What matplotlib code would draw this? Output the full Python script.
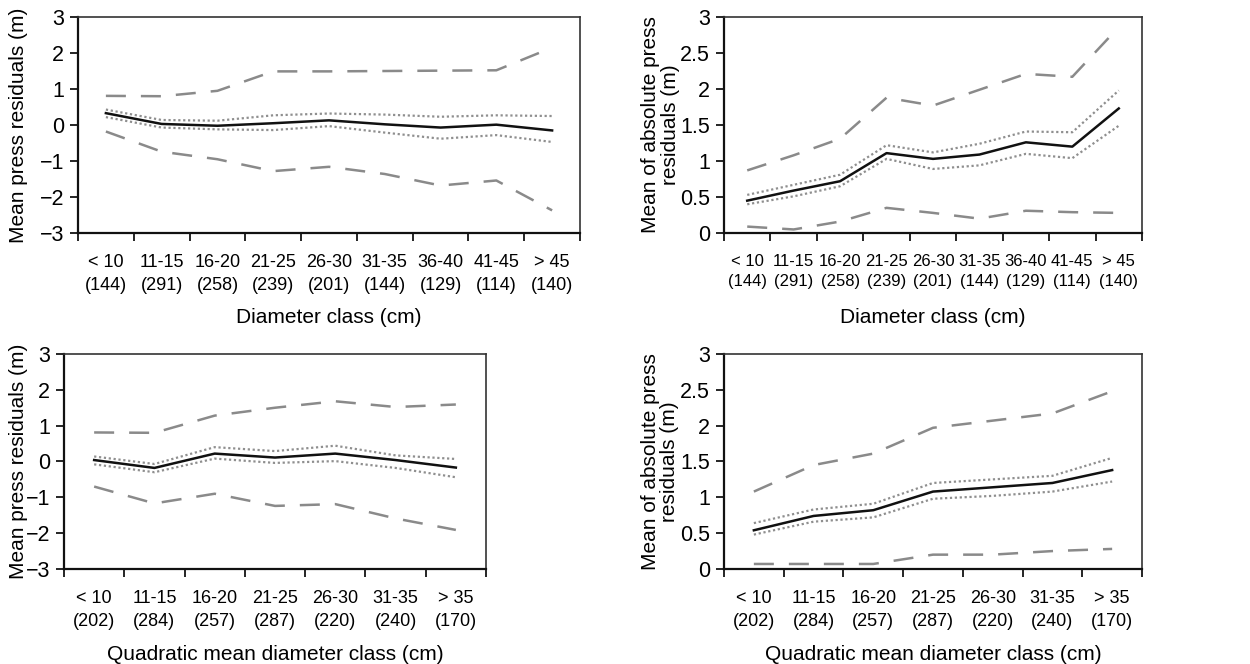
import numpy as np
import matplotlib
matplotlib.use("Agg")
import matplotlib.pyplot as plt
from matplotlib.ticker import FixedLocator, FuncFormatter

plt.rcParams['font.family'] = ['Liberation Sans', 'DejaVu Sans']

# diameter classes (top row)
d_classes = ['< 10', '11-15', '16-20', '21-25', '26-30', '31-35', '36-40', '41-45', '> 45']
d_counts = [144, 291, 258, 239, 201, 144, 129, 114, 140]

# quadratic mean diameter classes (bottom row)
q_classes = ['< 10', '11-15', '16-20', '21-25', '26-30', '31-35', '> 35']
q_counts = [202, 284, 257, 287, 220, 240, 170]

# top left: mean press residuals by diameter class
d_mean = [0.33, 0.03, -0.02, 0.05, 0.13, 0.02, -0.07, 0.01, -0.15]
d_mean_hi = [0.43, 0.14, 0.12, 0.27, 0.32, 0.29, 0.23, 0.27, 0.25]
d_mean_lo = [0.22, -0.07, -0.12, -0.14, -0.03, -0.21, -0.38, -0.28, -0.47]
d_range_hi = [0.81, 0.80, 0.95, 1.49, 1.49, 1.50, 1.51, 1.52, 2.15]
d_range_lo = [-0.18, -0.74, -0.95, -1.28, -1.16, -1.36, -1.68, -1.54, -2.37]

# top right: mean absolute press residuals by diameter class
d_abs = [0.45, 0.59, 0.72, 1.11, 1.03, 1.09, 1.26, 1.20, 1.73]
d_abs_hi = [0.53, 0.67, 0.81, 1.22, 1.12, 1.24, 1.41, 1.40, 1.98]
d_abs_lo = [0.40, 0.51, 0.65, 1.03, 0.89, 0.94, 1.10, 1.04, 1.49]
d_abs_rhi = [0.87, 1.08, 1.31, 1.88, 1.77, 1.99, 2.21, 2.17, 2.86]
d_abs_rlo = [0.09, 0.05, 0.16, 0.35, 0.28, 0.20, 0.31, 0.29, 0.28]

# bottom left: mean press residuals by quadratic mean diameter class
q_mean = [0.04, -0.18, 0.22, 0.11, 0.22, 0.04, -0.17]
q_mean_hi = [0.14, -0.07, 0.40, 0.29, 0.44, 0.17, 0.07]
q_mean_lo = [-0.08, -0.30, 0.08, -0.04, 0.01, -0.18, -0.44]
q_range_hi = [0.81, 0.80, 1.28, 1.50, 1.68, 1.52, 1.59]
q_range_lo = [-0.70, -1.17, -0.90, -1.24, -1.19, -1.59, -1.91]

# bottom right: mean absolute press residuals by quadratic mean diameter class
q_abs = [0.54, 0.74, 0.82, 1.08, 1.14, 1.20, 1.38]
q_abs_hi = [0.64, 0.83, 0.91, 1.20, 1.25, 1.30, 1.55]
q_abs_lo = [0.48, 0.66, 0.72, 0.98, 1.02, 1.08, 1.22]
q_abs_rhi = [1.08, 1.45, 1.61, 1.97, 2.07, 2.17, 2.48]
q_abs_rlo = [0.07, 0.07, 0.07, 0.20, 0.20, 0.25, 0.28]

fig = plt.figure(figsize=(12.5, 6.64), dpi=100)

positions = {
    'tl': [0.0624, 0.649, 0.4016, 0.3254],
    'tr': [0.5792, 0.649, 0.3344, 0.3254],
    'bl': [0.0512, 0.1431, 0.3376, 0.3238],
    'br': [0.5792, 0.1431, 0.3344, 0.3238],
}
# y-label right edge / x-label top, in axes fraction
ylabel_x = {'tl': -0.100, 'tr': -0.106, 'bl': -0.086, 'br': -0.107}
xlabel_y = {'tl': -0.345, 'tr': -0.345, 'bl': -0.352, 'br': -0.352}
xtick_size = {'tl': 13, 'tr': 12, 'bl': 13, 'br': 13}

grey = '#8a8a8a'
dot_grey = '#8f8f8f'


def fmt_num(v, pos):
    if abs(v - round(v)) < 1e-9:
        s = '%d' % round(v)
    else:
        s = ('%.1f' % v)
    return s.replace('-', '\u2212')


def draw(key, classes, counts, mean, hi, lo, rhi, rlo, ylim, yticks, ylabel, xlabel):
    ax = fig.add_axes(positions[key])
    n = len(classes)
    x = np.arange(n) + 0.5
    ax.plot(x, rhi, color=grey, lw=1.8, dashes=(8, 6))
    ax.plot(x, rlo, color=grey, lw=1.8, dashes=(8, 6))
    ax.plot(x, hi, color=dot_grey, lw=1.6, dashes=(1, 1.2))
    ax.plot(x, lo, color=dot_grey, lw=1.6, dashes=(1, 1.2))
    ax.plot(x, mean, color='#111111', lw=1.8)

    ax.set_xlim(0, n)
    ax.set_ylim(*ylim)
    ax.xaxis.set_major_locator(FixedLocator(np.arange(n + 1)))
    ax.xaxis.set_major_formatter(FuncFormatter(lambda v, p: ''))
    ax.xaxis.set_minor_locator(FixedLocator(x))
    labels = ['%s\n(%d)' % (c, k) for c, k in zip(classes, counts)]
    ax.set_xticklabels(labels, minor=True, fontsize=xtick_size[key], linespacing=1.45)
    ax.tick_params(axis='x', which='minor', length=0, pad=15)
    ax.tick_params(axis='x', which='major', length=6, width=1.2, direction='out')
    ax.set_yticks(yticks)
    ax.yaxis.set_major_formatter(FuncFormatter(fmt_num))
    ax.tick_params(axis='y', length=6, width=1.2, labelsize=15.5, pad=4)
    for s in ['left', 'bottom']:
        ax.spines[s].set_linewidth(1.6)
        ax.spines[s].set_color('#111111')
    for s in ['top', 'right']:
        ax.spines[s].set_linewidth(1.2)
        ax.spines[s].set_color('#333333')
    ax.set_ylabel(ylabel, fontsize=15, linespacing=1.05)
    ax.yaxis.set_label_coords(ylabel_x[key], 0.5)
    ax.set_xlabel(xlabel, fontsize=15)
    ax.xaxis.set_label_coords(0.5, xlabel_y[key])
    return ax


draw('tl', d_classes, d_counts, d_mean, d_mean_hi, d_mean_lo, d_range_hi, d_range_lo,
     (-3, 3), np.arange(-3, 4, 1), 'Mean press residuals (m)', 'Diameter class (cm)')
draw('tr', d_classes, d_counts, d_abs, d_abs_hi, d_abs_lo, d_abs_rhi, d_abs_rlo,
     (0, 3), np.arange(0, 3.01, 0.5), 'Mean of absolute press\nresiduals (m)', 'Diameter class (cm)')
draw('bl', q_classes, q_counts, q_mean, q_mean_hi, q_mean_lo, q_range_hi, q_range_lo,
     (-3, 3), np.arange(-3, 4, 1), 'Mean press residuals (m)', 'Quadratic mean diameter class (cm)')
draw('br', q_classes, q_counts, q_abs, q_abs_hi, q_abs_lo, q_abs_rhi, q_abs_rlo,
     (0, 3), np.arange(0, 3.01, 0.5), 'Mean of absolute press\nresiduals (m)', 'Quadratic mean diameter class (cm)')

fig.savefig('out.png', dpi=100)
